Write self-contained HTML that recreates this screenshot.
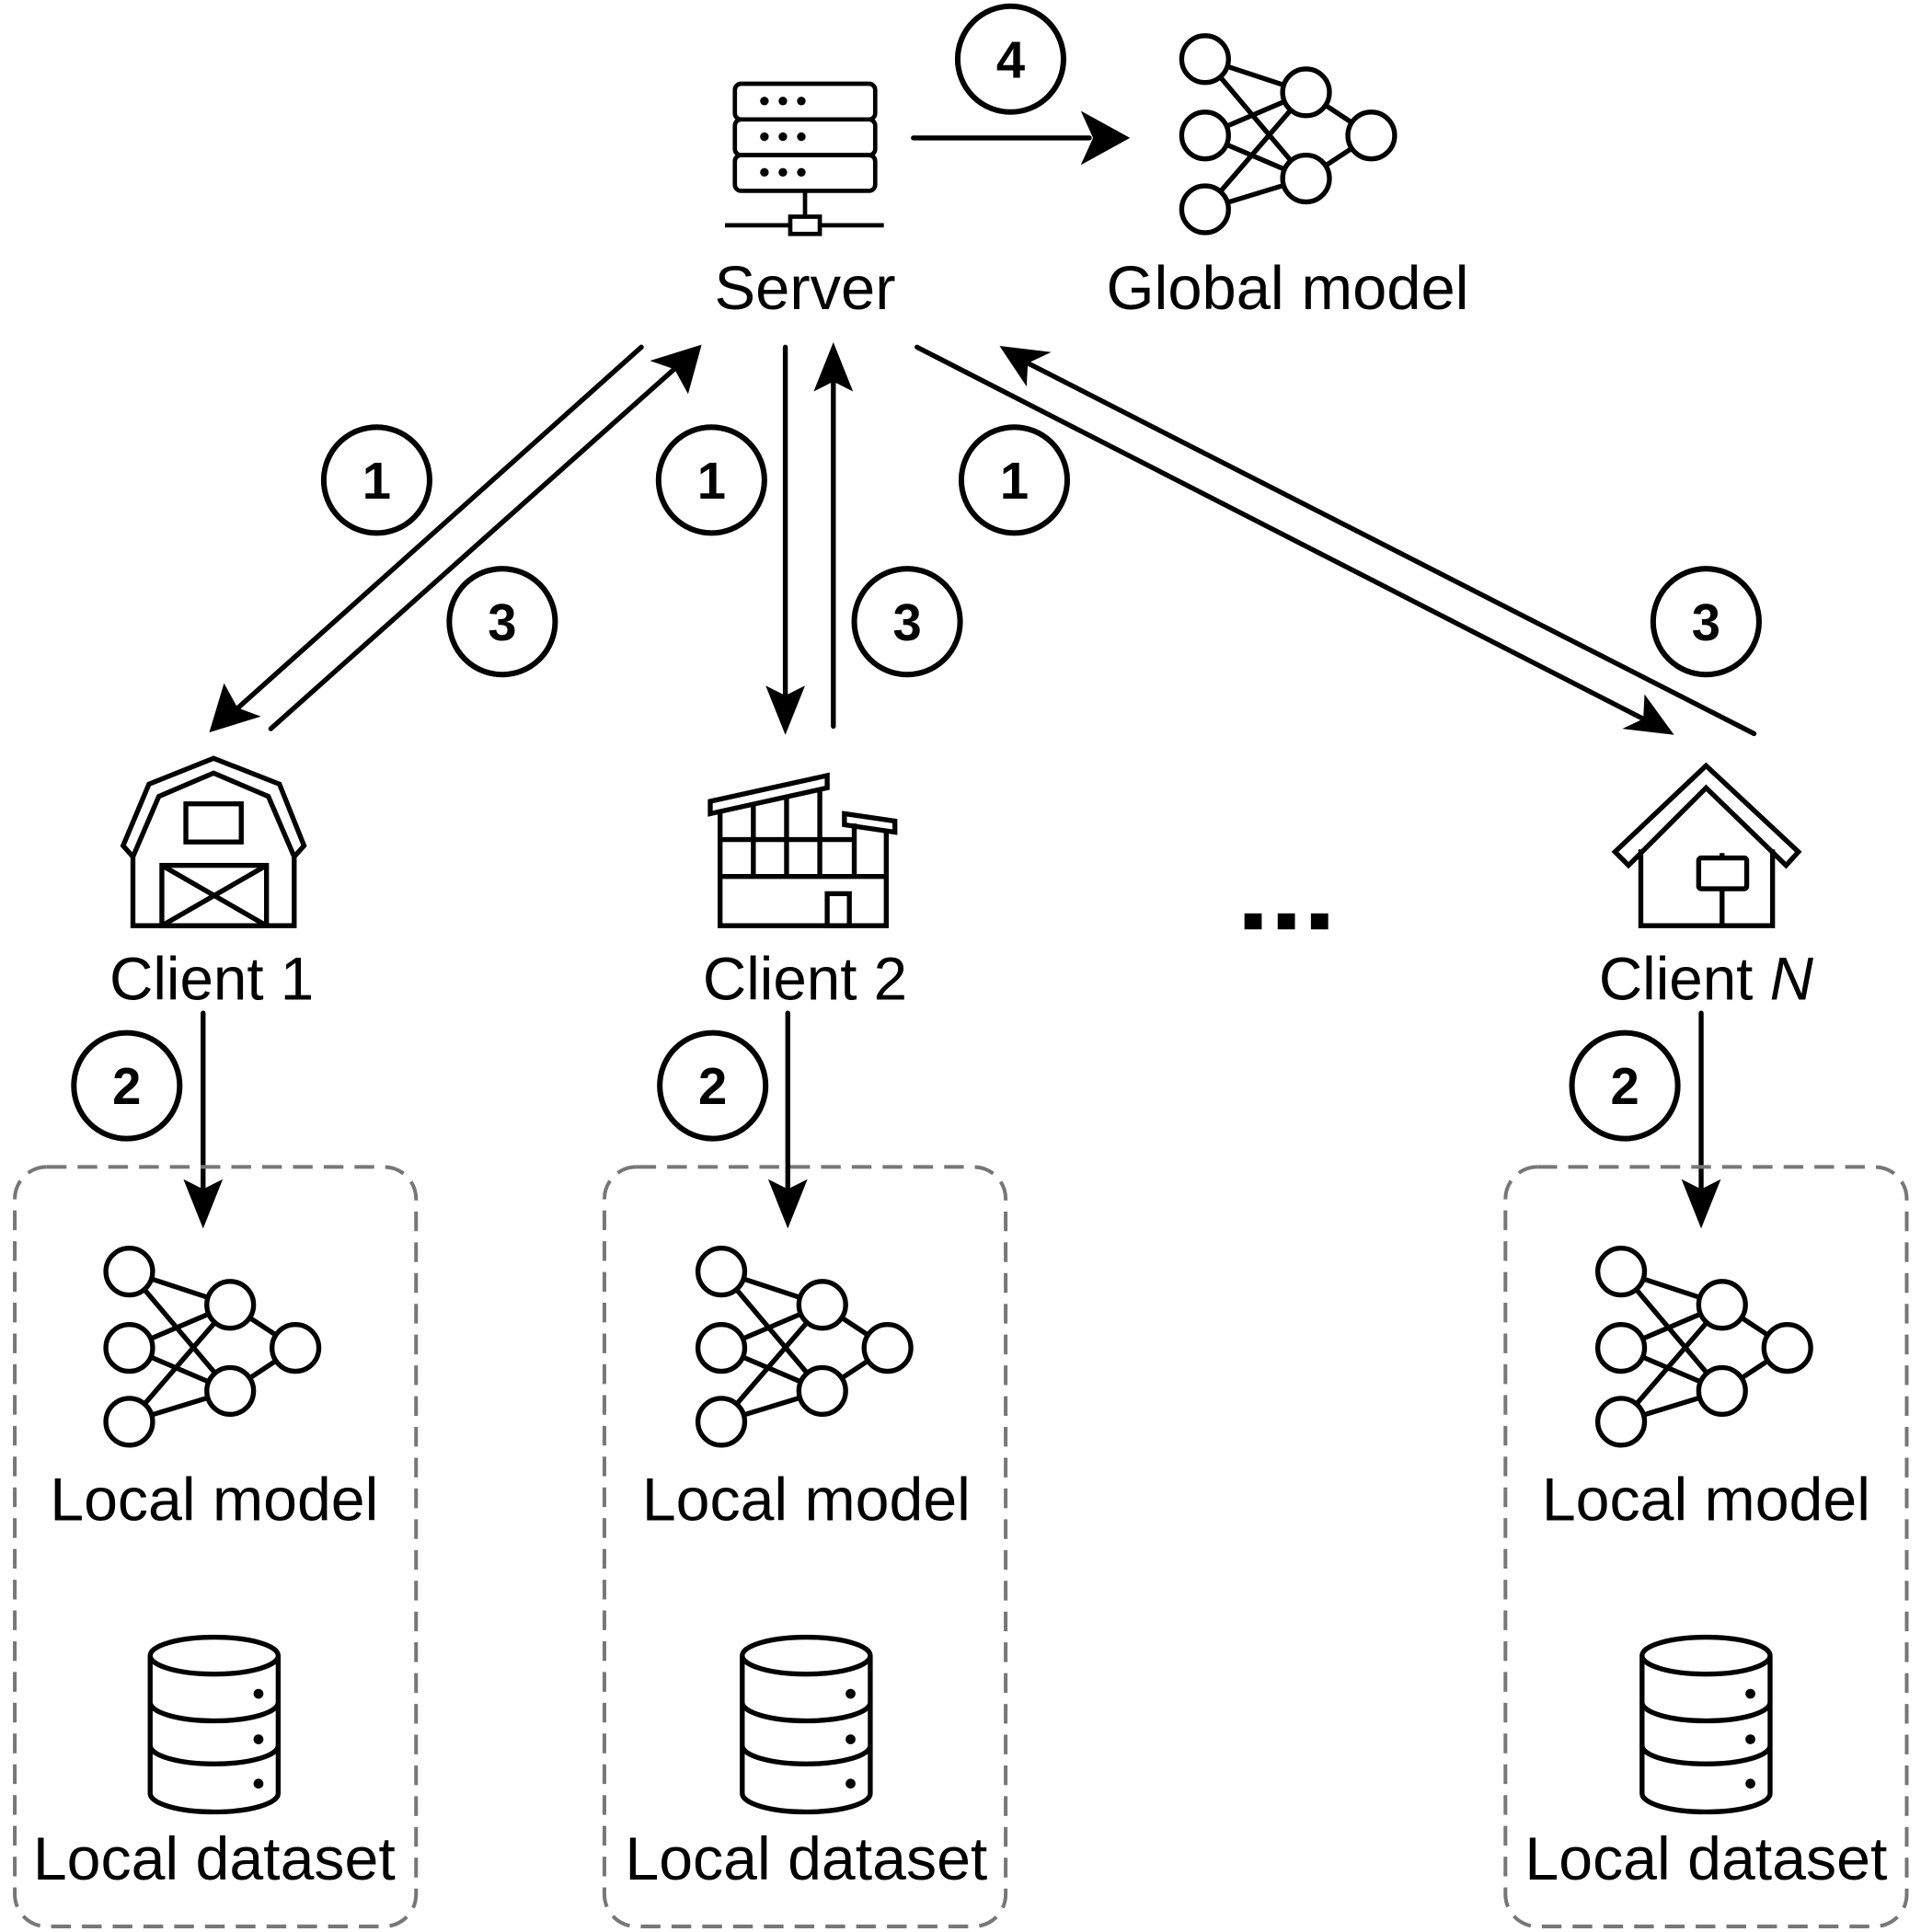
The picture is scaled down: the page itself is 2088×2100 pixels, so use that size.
<!DOCTYPE html>
<html><head><meta charset="utf-8"><style>
html,body{margin:0;padding:0;background:#fff;}
svg{display:block;}
text{font-family:"Liberation Sans",Arial,sans-serif;fill:#000;}
</style></head><body>
<svg width="2088" height="2100" viewBox="0 0 1560.6 1569.5" xmlns="http://www.w3.org/2000/svg">
<defs>
<g id="nn" fill="#fff" stroke="#000" stroke-width="4">
  <line x1="0" y1="0" x2="82" y2="27"/><line x1="0" y1="0" x2="82" y2="97"/>
  <line x1="0" y1="62" x2="82" y2="27"/><line x1="0" y1="62" x2="82" y2="97"/>
  <line x1="0" y1="122" x2="82" y2="27"/><line x1="0" y1="122" x2="82" y2="97"/>
  <line x1="82" y1="27" x2="135" y2="62"/><line x1="82" y1="97" x2="135" y2="62"/>
  <circle cx="0" cy="0" r="19"/><circle cx="0" cy="62" r="19"/><circle cx="0" cy="122" r="19"/>
  <circle cx="82" cy="27" r="19"/><circle cx="82" cy="97" r="19"/><circle cx="135" cy="62" r="19"/>
</g>
<g id="db" fill="#fff" stroke="#000" stroke-width="4">
  <path d="M0,0 L0,112 A52,15 0 0 0 104,112 L104,0"/>
  <ellipse cx="52" cy="0" rx="52" ry="15"/>
  <path d="M0,38 A52,15 0 0 0 104,38" fill="none"/>
  <path d="M0,73 A52,15 0 0 0 104,73" fill="none"/>
  <circle cx="88" cy="31" r="4" fill="#000" stroke="none"/>
  <circle cx="88" cy="68" r="4" fill="#000" stroke="none"/>
  <circle cx="88" cy="104" r="4" fill="#000" stroke="none"/>
</g>
<g id="box">
  <rect x="0" y="0" width="326" height="617" rx="26" fill="none" stroke="#777" stroke-width="3" stroke-dasharray="16,9"/>
</g>
</defs>

<!-- Server -->
<g fill="#fff" stroke="#000" stroke-width="3.5">
  <rect x="597" y="68" width="114" height="29" rx="5"/>
  <rect x="597" y="97" width="114" height="29" rx="5"/>
  <rect x="597" y="126" width="114" height="29" rx="5"/>
  <line x1="654" y1="155" x2="654" y2="177"/>
  <line x1="589" y1="183" x2="718" y2="183"/>
  <rect x="642" y="176" width="24" height="14"/>
</g>
<g fill="#000">
  <circle cx="621" cy="82" r="3.5"/><circle cx="636" cy="82" r="3.5"/><circle cx="651" cy="82" r="3.5"/>
  <circle cx="621" cy="111" r="3.5"/><circle cx="636" cy="111" r="3.5"/><circle cx="651" cy="111" r="3.5"/>
  <circle cx="621" cy="140" r="3.5"/><circle cx="636" cy="140" r="3.5"/><circle cx="651" cy="140" r="3.5"/>
</g>
<text x="654" y="251" font-size="50" text-anchor="middle">Server</text>

<!-- Global model -->
<use href="#nn" x="979" y="48"/>
<text x="1046" y="251" font-size="50" text-anchor="middle">Global model</text>

<g stroke="#000" stroke-width="4" fill="none" stroke-linecap="round">
  <line x1="742" y1="112" x2="885" y2="112"/>
  <line x1="521" y1="282" x2="190" y2="578"/>
  <line x1="220" y1="592" x2="552" y2="296"/>
  <line x1="638" y1="282" x2="638" y2="565"/>
  <line x1="677" y1="590" x2="677" y2="310"/>
  <line x1="745" y1="282" x2="1335" y2="584"/>
  <line x1="1425" y1="596" x2="835" y2="295"/>
  <line x1="165" y1="823" x2="165" y2="965"/>
  <line x1="640" y1="823" x2="640" y2="965"/>
  <line x1="1382" y1="823" x2="1382" y2="965"/>
</g>
<g fill="#000">
  <polygon points="918,112 878,90 888,112 878,134"/>
  <polygon points="170,595 182,555 193,575 212,582"/>
  <polygon points="570,280 559,320 548,300 528,293"/>
  <polygon points="638,597 622,557 638,565 654,557"/>
  <polygon points="677,278 661,318 677,310 693,318"/>
  <polygon points="1360,597 1318,592 1335,584 1336,564"/>
  <polygon points="812,281 854,286 835,295 834,314"/>
  <polygon points="165,998 149,958 165,966 181,958"/>
  <polygon points="640,998 624,958 640,966 656,958"/>
  <polygon points="1382,998 1366,958 1382,966 1398,958"/>
</g>

<g fill="#fff" stroke="#000" stroke-width="4.5">
  <circle cx="821" cy="48" r="43"/>
  <circle cx="306" cy="390" r="43"/><circle cx="408" cy="505" r="43"/>
  <circle cx="578" cy="390" r="43"/><circle cx="737" cy="505" r="43"/>
  <circle cx="824" cy="390" r="43"/><circle cx="1386" cy="505" r="43"/>
  <circle cx="103" cy="882" r="43"/><circle cx="579" cy="882" r="43"/><circle cx="1320" cy="882" r="43"/>
</g>
<g font-size="42" font-weight="bold" text-anchor="middle">
  <text x="821" y="63">4</text>
  <text x="306" y="405">1</text><text x="408" y="520">3</text>
  <text x="578" y="405">1</text><text x="737" y="520">3</text>
  <text x="824" y="405">1</text><text x="1386" y="520">3</text>
  <text x="103" y="897">2</text><text x="579" y="897">2</text><text x="1320" y="897">2</text>
</g>

<!-- Barn -->
<g fill="none" stroke="#000" stroke-width="4">
  <polygon points="108,696 100,687 121,637 173.5,616 227,637 247,687 239,696 239,752 108,752"/>
  <polyline points="108,696 129,647 173.5,628 218,647 239,696"/>
  <rect x="151" y="653" width="45" height="31"/>
  <rect x="131.5" y="703" width="85" height="49"/>
  <line x1="131.5" y1="703" x2="216.5" y2="752"/>
  <line x1="216.5" y1="703" x2="131.5" y2="752"/>
</g>

<!-- Factory -->
<g fill="none" stroke="#000" stroke-width="4">
  <polygon points="577,651 672,630 672,640 577,661"/>
  <polygon points="686,661 727,667 727,676 686,670"/>
  <polyline points="585,659 585,752 720,752 720,675"/>
  <line x1="694" y1="669" x2="694" y2="712"/>
  <line x1="612" y1="653" x2="612" y2="712"/>
  <line x1="639" y1="647" x2="639" y2="712"/>
  <line x1="666" y1="641" x2="666" y2="712"/>
  <line x1="585" y1="682" x2="694" y2="682"/>
  <line x1="585" y1="712" x2="720" y2="712"/>
  <rect x="672" y="726" width="18" height="26"/>
</g>

<!-- House -->
<g fill="none" stroke="#000" stroke-width="4">
  <polygon points="1386,622 1312,692 1323,703 1386,640 1451,703 1461,692"/>
  <polyline points="1333,690 1333,752 1440,752 1440,690"/>
  <rect x="1380" y="697" width="39" height="25" rx="2"/>
  <line x1="1399" y1="722" x2="1399" y2="752"/>
  <line x1="1399" y1="693" x2="1399" y2="697"/>
</g>

<g fill="#000">
  <rect x="1011" y="742" width="14" height="13"/>
  <rect x="1038" y="742" width="14" height="13"/>
  <rect x="1065" y="742" width="14" height="13"/>
</g>

<g font-size="49" text-anchor="middle">
  <text x="172" y="812">Client 1</text>
  <text x="654" y="812">Client 2</text>
  <text x="1386" y="812">Client <tspan font-style="italic">N</tspan></text>
</g>

<use href="#box" x="12" y="948"/>
<use href="#box" x="491" y="948"/>
<use href="#box" x="1223" y="948"/>

<use href="#nn" x="105" y="1033"/>
<use href="#nn" x="586" y="1033"/>
<use href="#nn" x="1317" y="1033"/>
<use href="#db" x="122" y="1345"/>
<use href="#db" x="603" y="1345"/>
<use href="#db" x="1334" y="1345"/>

<g font-size="49.5" text-anchor="middle">
  <text x="174" y="1235">Local model</text>
  <text x="655" y="1235">Local model</text>
  <text x="1386" y="1235">Local model</text>
  <text x="174" y="1527">Local dataset</text>
  <text x="655" y="1527">Local dataset</text>
  <text x="1386" y="1527">Local dataset</text>
</g>
</svg>
</body></html>
